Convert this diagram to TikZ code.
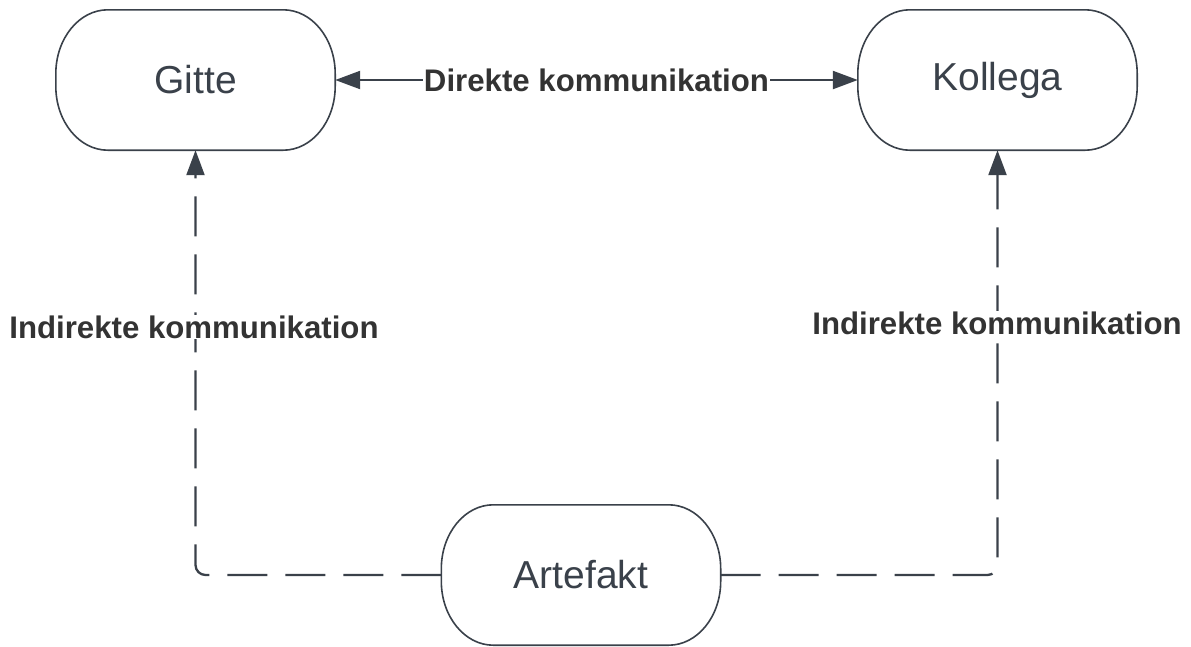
\documentclass[tikz,border=0pt]{standalone}
\usepackage{fontspec}
\setmainfont{Liberation Sans}
\usetikzlibrary{arrows.meta}
\definecolor{ln}{HTML}{3A414A}
\definecolor{tx}{HTML}{333333}
\tikzset{
  box/.style={minimum width=279pt, minimum height=140pt, inner sep=0pt, text=ln, font=\fontsize{39}{42}\selectfont},
  conn/.style={draw=ln, line width=2.3pt, -{Triangle[length=25pt,width=18pt]}},
  dconn/.style={conn, dash pattern=on 40pt off 18pt, rounded corners=10pt},
  lbl/.style={fill=white, text=tx, font=\fontsize{31.2}{34}\selectfont\bfseries, inner sep=1pt},
  outline/.style={draw=ln, line width=1.6pt, fill=white}
}
\newcommand{\stadium}[1]{%
  \draw[outline] ([xshift=52pt]#1.north west) -- ([xshift=-52pt]#1.north east)
    .. controls ([xshift=-23.3pt]#1.north east) and ([yshift=-28.7pt]#1.north east) .. ([yshift=-64pt]#1.north east)
    -- ([yshift=64pt]#1.south east)
    .. controls ([yshift=28.7pt]#1.south east) and ([xshift=-23.3pt]#1.south east) .. ([xshift=-52pt]#1.south east)
    -- ([xshift=52pt]#1.south west)
    .. controls ([xshift=23.3pt]#1.south west) and ([yshift=28.7pt]#1.south west) .. ([yshift=64pt]#1.south west)
    -- ([yshift=-64pt]#1.north west)
    .. controls ([yshift=-28.7pt]#1.north west) and ([xshift=23.3pt]#1.north west) .. ([xshift=52pt]#1.north west) -- cycle;}
\begin{document}
\begin{tikzpicture}[x=1pt,y=-1pt]
\useasboundingbox (0,0) rectangle (1191,646);
\node[box] (g) at (195.5,80) {};
\node[box] (k) at (997.5,80) {};
\node[box] (a) at (581,575) {};
\stadium{g}\stadium{k}\stadium{a}
\node[box] (gt) at (g.center) {Gitte};
\node[box] (kt) at (k.center) {Kollega};
\node[box] (at) at (a.center) {Artefakt};
\draw[conn,{Triangle[length=25pt,width=18pt]}-{Triangle[length=25pt,width=18pt]}] (g.east) -- node[lbl] {Direkte kommunikation} (k.west);
\coordinate (cl) at (195.5,575);
\coordinate (cr) at (997.5,575);
\draw[dconn] (a.west) -- (cl) -- (g.south);
\draw[dconn] (a.east) -- (cr) -- (k.south);
\node[lbl] (ll) at (194,327) {Indirekte kommunikation};
\node[lbl] (lr) at (997,323) {Indirekte kommunikation};
\end{tikzpicture}
\end{document}
